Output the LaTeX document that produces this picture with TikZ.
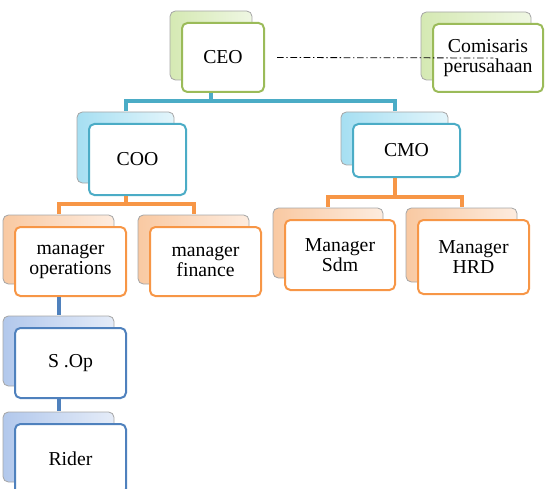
\documentclass[tikz,border=0pt]{standalone}
\usepackage{fontspec}
\setmainfont{Liberation Serif}
\usetikzlibrary{shadows}

\definecolor{olivec}{HTML}{9BBB59}
\definecolor{greenl}{HTML}{D5E9B3}
\definecolor{greenr}{HTML}{EFF7E3}
\definecolor{tealc}{HTML}{4BACC6}
\definecolor{teall}{HTML}{A6DFF2}
\definecolor{tealr}{HTML}{E3F5FB}
\definecolor{orangec}{HTML}{F79646}
\definecolor{orangel}{HTML}{F9C9A2}
\definecolor{oranger}{HTML}{FDECDF}
\definecolor{bluec}{HTML}{4F81BD}
\definecolor{bluel}{HTML}{B2C8EC}
\definecolor{bluer}{HTML}{E5ECF8}

\tikzset{
  frontbox/.style={draw=#1, line width=1.5pt, rounded corners=4pt, fill=white,
    align=center, inner sep=0pt, font=\fontsize{14.8}{14.8}\selectfont},
  backbox/.style 2 args={copy shadow={shadow xshift=-9pt, shadow yshift=9pt,
    draw=gray!70, line width=0.6pt, left color=#1, right color=#2}},
  boxsize/.style 2 args={minimum width=#1*0.75pt, minimum height=#2*0.75pt},
  greenbox/.style={frontbox=olivec, backbox={greenl}{greenr}},
  tealbox/.style={frontbox=tealc, backbox={teall}{tealr}},
  orangebox/.style={frontbox=orangec, backbox={orangel}{oranger}},
  bluebox/.style={frontbox=bluec, backbox={bluel}{bluer}},
  conn/.style={draw=#1, line width=3pt},
  dashline/.style={black, line width=0.6pt, dash pattern=on 5pt off 2pt on 1pt off 2pt}
}

\begin{document}
\begin{tikzpicture}[x=0.75pt, y=-0.75pt]
  \useasboundingbox (0,0) rectangle (548,488);
  \clip (0,0) rectangle (548,488);

  % top level
  \node[greenbox, boxsize={82}{69}] (ceo) at (223,57.5) {CEO};
  \node[greenbox, boxsize={110}{68}] (kom) at (488,58) {Comisaris\\perusahaan};

  % chiefs
  \node[tealbox, boxsize={97}{71}] (coo) at (137.5,159.5) {COO};
  \node[tealbox, boxsize={107}{53}] (cmo) at (406.5,150.5) {CMO};

  % managers
  \node[orangebox, boxsize={111}{69}] (mops) at (70.5,261.5) {manager\\operations};
  \node[orangebox, boxsize={111}{69}] (mfin) at (205.5,261.5) {manager\\finance};
  \node[orangebox, boxsize={110}{70}] (sdm) at (340,255) {Manager\\Sdm};
  \node[orangebox, boxsize={111}{74}] (hrd) at (473.5,257) {Manager\\HRD};

  % staff
  \node[bluebox, boxsize={111}{70}] (sop) at (70.5,363) {S .Op};
  \node[bluebox, boxsize={111}{70}] (rider) at (70.5,459) {Rider};

  \foreach \p/\c/\col in {ceo/coo/tealc, ceo/cmo/tealc, coo/mops/orangec, coo/mfin/orangec,
      cmo/sdm/orangec, cmo/hrd/orangec, mops/sop/bluec, sop/rider/bluec} {
    \draw[conn=\col] ([xshift=-9pt]\p.south) |- ([shift={(-12,-22)}]\c.north)
      -- ([shift={(-12,-12)}]\c.north);
  }

  \draw[dashline] ([xshift=9pt]ceo.east) -- ([xshift=4pt]kom.center);
\end{tikzpicture}
\end{document}
